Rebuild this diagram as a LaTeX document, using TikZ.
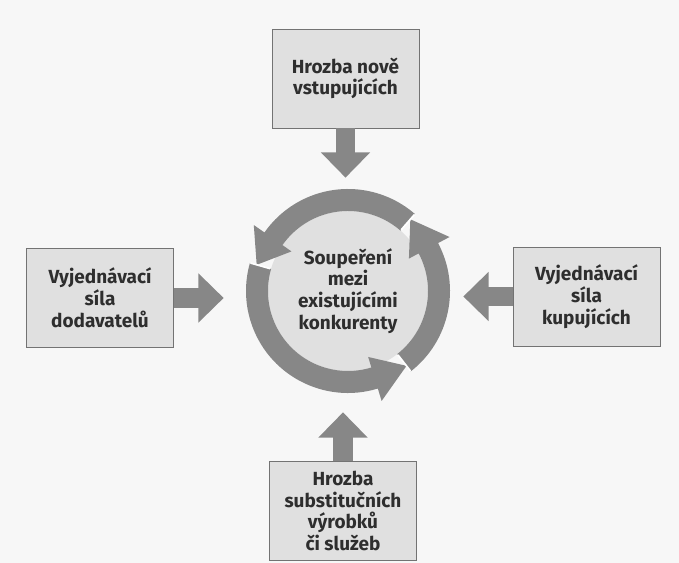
\documentclass[tikz,border=0pt]{standalone}
\usepackage{fontspec}
\setmainfont{Fira Sans}
\usetikzlibrary{arrows.meta}
\definecolor{paper}{gray}{0.97}
\definecolor{ringgray}{gray}{0.53}
\definecolor{boxgray}{gray}{0.88}
\definecolor{edgegray}{gray}{0.45}
\definecolor{inkgray}{gray}{0.18}

\begin{document}
\begin{tikzpicture}[
        x=0.025cm, y=0.025cm, % one unit = one pixel of the scan
        font=\bfseries\fontsize{13.5}{15.5}\selectfont,
        % --- styles ---
        forcebox/.style={draw=edgegray, line width=0.6pt, fill=boxgray, text=inkgray,
            align=center, minimum width=3.675cm, minimum height=2.475cm, inner sep=2pt},
        rivalcircle/.style={circle, fill=boxgray, text=inkgray, align=center, minimum size=4cm},
        forcearrow/.style={ringgray, line width=14.2pt, -{Triangle[width=34pt, length=18pt]}},
        ringpart/.style={fill=ringgray},
        gapline/.style={white, line width=1.2pt},
    ]
        % --- paper ---
        \fill[paper] (0,0) rectangle (679,563);

        % --- rivalry in the middle ---
        \node[rivalcircle] (rivalry) at (348,272) {Soupeření\\mezi\\existujícími\\konkurenty};

        % --- ring of three curved arrows (tail / head base / tip) ---
        \begin{scope}[shift={(348,272)}]
            \foreach \s/\b/\t in {49/145/164, 164/287/308, 308/388/409} {
                \fill[ringpart] (\s:80) arc[start angle=\s, end angle=\b, radius=80]
                    -- (\b:69) -- (\t:95) -- (\b:115) -- (\b:102)
                    arc[start angle=\b, end angle=\s, radius=102] -- cycle;
            }
            \foreach \t in {164, 308, 49} {
                \draw[gapline] (\t:81) -- (\t:101.5);
            }
        \end{scope}

        % --- the four forces ---
        \node[forcebox] (entrants) at (345.5,484.5) {Hrozba nově\\vstupujících};
        \node[forcebox] (suppliers) at (100,265) {Vyjednávací\\síla\\dodavatelů};
        \node[forcebox] (buyers) at (586.5,266.5) {Vyjednávací\\síla\\kupujících};
        \node[forcebox] (substitutes) at (343,52) {Hrozba\\substitučních\\výrobků\\či služeb};

        % --- block arrows towards the rivalry ---
        \draw[forcearrow, shorten >=0.825cm] (entrants.south) -- (entrants.south |- rivalry.north);
        \draw[forcearrow, shorten >=1.1cm] (suppliers.east) -- (suppliers.east -| rivalry.west);
        \draw[forcearrow, shorten >=0.875cm] (buyers.west) -- (buyers.west -| rivalry.east);
        \draw[forcearrow, shorten >=1.025cm] (substitutes.north) -- (substitutes.north |- rivalry.south);
    \end{tikzpicture}
\end{document}
